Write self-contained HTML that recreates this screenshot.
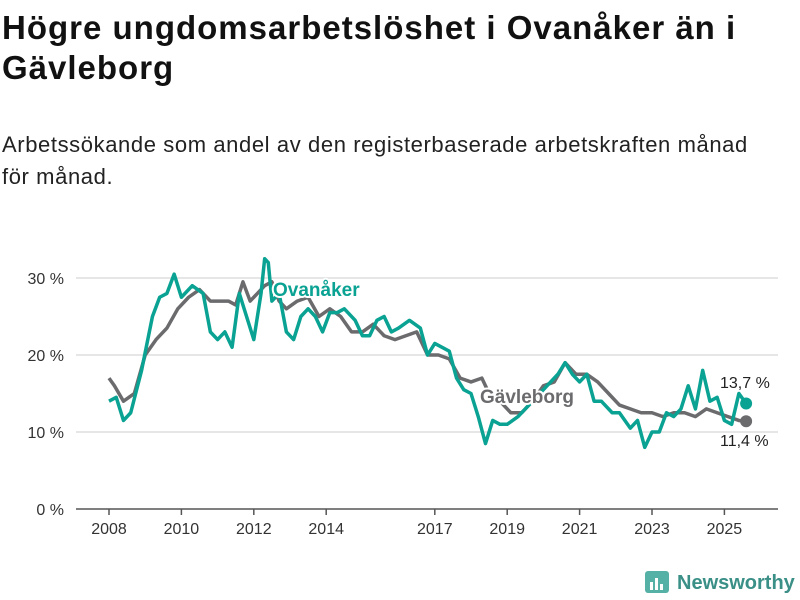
<!DOCTYPE html>
<html><head><meta charset="utf-8"><style>
body{margin:0;background:#fff;font-family:"Liberation Sans",sans-serif;}
#wrap{position:relative;width:800px;height:600px;overflow:hidden;}
h1{position:absolute;left:2px;top:8px;margin:0;font-size:33px;letter-spacing:1px;line-height:40px;font-weight:bold;color:#111;width:760px;}
p{position:absolute;left:2px;top:129px;margin:0;font-size:22px;letter-spacing:0.6px;line-height:32px;color:#222;width:770px;}
svg{position:absolute;left:0;top:0;}
</style></head><body><div id="wrap">
<h1>Högre ungdomsarbetslöshet i Ovanåker än i Gävleborg</h1>
<p>Arbetssökande som andel av den registerbaserade arbetskraften månad för månad.</p>
<svg id="c" width="800" height="600"></svg>
</div>
<script>
const yTicks=[0,10,20,30];
const xTicks=[2008,2010,2012,2014,2017,2019,2021,2023,2025];
const gavT=[2008.0,2008.15,2008.4,2008.7,2009.0,2009.3,2009.6,2009.9,2010.2,2010.5,2010.8,2011.0,2011.3,2011.5,2011.7,2011.9,2012.1,2012.3,2012.5,2012.7,2012.9,2013.2,2013.5,2013.8,2014.1,2014.4,2014.7,2015.0,2015.3,2015.6,2015.9,2016.2,2016.5,2016.8,2017.1,2017.4,2017.7,2018.0,2018.3,2018.5,2018.8,2019.1,2019.4,2019.7,2020.0,2020.3,2020.6,2020.9,2021.2,2021.5,2021.8,2022.1,2022.4,2022.7,2023.0,2023.3,2023.6,2023.9,2024.2,2024.5,2024.8,2025.1,2025.4,2025.6];
const gavV=[17,16,14,15,20,22,23.5,26,27.5,28.5,27,27,27,26.5,29.5,27,28,29,29.5,27,26,27,27.5,25,26,25,23,23,24,22.5,22,22.5,23,20,20,19.5,17,16.5,17,15,14,12.5,12.5,14,16,16.5,19,17.5,17.5,16.5,15,13.5,13,12.5,12.5,12,12.5,12.5,12,13,12.5,12,11.5,11.4];
const ovaT=[2008.0,2008.2,2008.4,2008.6,2008.9,2009.2,2009.4,2009.6,2009.8,2010.0,2010.3,2010.6,2010.8,2011.0,2011.2,2011.4,2011.6,2011.8,2012.0,2012.2,2012.3,2012.4,2012.5,2012.7,2012.9,2013.1,2013.3,2013.5,2013.7,2013.9,2014.1,2014.3,2014.5,2014.8,2015.0,2015.2,2015.4,2015.6,2015.8,2016.0,2016.3,2016.6,2016.8,2017.0,2017.2,2017.4,2017.6,2017.8,2018.0,2018.2,2018.4,2018.6,2018.8,2019.0,2019.3,2019.5,2019.7,2019.9,2020.1,2020.4,2020.6,2020.8,2021.0,2021.2,2021.4,2021.6,2021.9,2022.1,2022.4,2022.6,2022.8,2023.0,2023.2,2023.4,2023.6,2023.8,2024.0,2024.2,2024.4,2024.6,2024.8,2025.0,2025.2,2025.4,2025.6];
const ovaV=[14,14.5,11.5,12.5,18,25,27.5,28,30.5,27.5,29,28,23,22,23,21,28,25,22,28,32.5,32,27,28,23,22,25,26,25,23,25.5,25.5,26,24.5,22.5,22.5,24.5,25,23,23.5,24.5,23.5,20,21.5,21,20.5,17,15.5,15,12,8.5,11.5,11,11,12,13,14,15,16,17.5,19,17.5,16.5,17.5,14,14,12.5,12.5,10.5,11.5,8,10,10,12.5,12,13,16,13,18,14,14.5,11.5,11,15,13.7];
const svg=document.getElementById('c'),NS='http://www.w3.org/2000/svg';
const x=t=>109+(t-2008)*36.2, y=v=>509-v*7.7;
function mk(tag,at,txt){const e=document.createElementNS(NS,tag);for(const k in at)e.setAttribute(k,at[k]);if(txt!==undefined)e.textContent=txt;svg.appendChild(e);return e;}
yTicks.forEach(v=>{
 const l=mk('line',{x1:76,x2:778,y1:y(v),y2:y(v),stroke:v?'#ddd':'#555','stroke-width':1.5});
 
 
 const t=mk('text',{x:64,y:y(v)+6,'text-anchor':'end','font-size':16,fill:'#333'},v+' %');
 
 
});
xTicks.forEach(v=>{
 const l=mk('line',{x1:x(v),x2:x(v),y1:509,y2:515,stroke:'#555','stroke-width':1.5});
 
 
 const t=mk('text',{x:x(v),y:534,'text-anchor':'middle','font-size':16,fill:'#333'},v);
 
 
});
function line(T,V,col,name){
 const p=mk('polyline',{points:T.map((t,i)=>x(t)+','+y(V[i])).join(' '),fill:'none',stroke:col,'stroke-width':3.5,'stroke-linejoin':'round'});
 
 
 const c=mk('circle',{cx:x(T[T.length-1]),cy:y(V[V.length-1]),r:6,fill:col});
 
 
}
line(gavT,gavV,'#6b6b6e','gavleborg-line');
line(ovaT,ovaV,'#0aa293','ovanaker-line');
let t=mk('text',{x:273,y:296,'font-size':19,'font-weight':'bold',fill:'#0aa293',stroke:'#fff','stroke-width':4,'paint-order':'stroke'},'Ovanåker');


t=mk('text',{x:480,y:403,'font-size':19,'font-weight':'bold',fill:'#6b6b6e',stroke:'#fff','stroke-width':4,'paint-order':'stroke'},'Gävleborg');


t=mk('text',{x:720,y:388,'font-size':16,fill:'#222'},'13,7 %');


t=mk('text',{x:720,y:446,'font-size':16,fill:'#222'},'11,4 %');


const g=mk('g',{});


g.innerHTML='<rect x="645" y="571" width="24" height="22" rx="3" fill="#2a9d8f" opacity="0.8"/><rect x="650" y="582" width="3" height="8" fill="#fff"/><rect x="655" y="578" width="3" height="12" fill="#fff"/><rect x="660" y="584" width="3" height="6" fill="#fff"/><text x="677" y="589" font-size="20" font-weight="bold" fill="#3a8f87">Newsworthy</text>';
</script></body></html>
